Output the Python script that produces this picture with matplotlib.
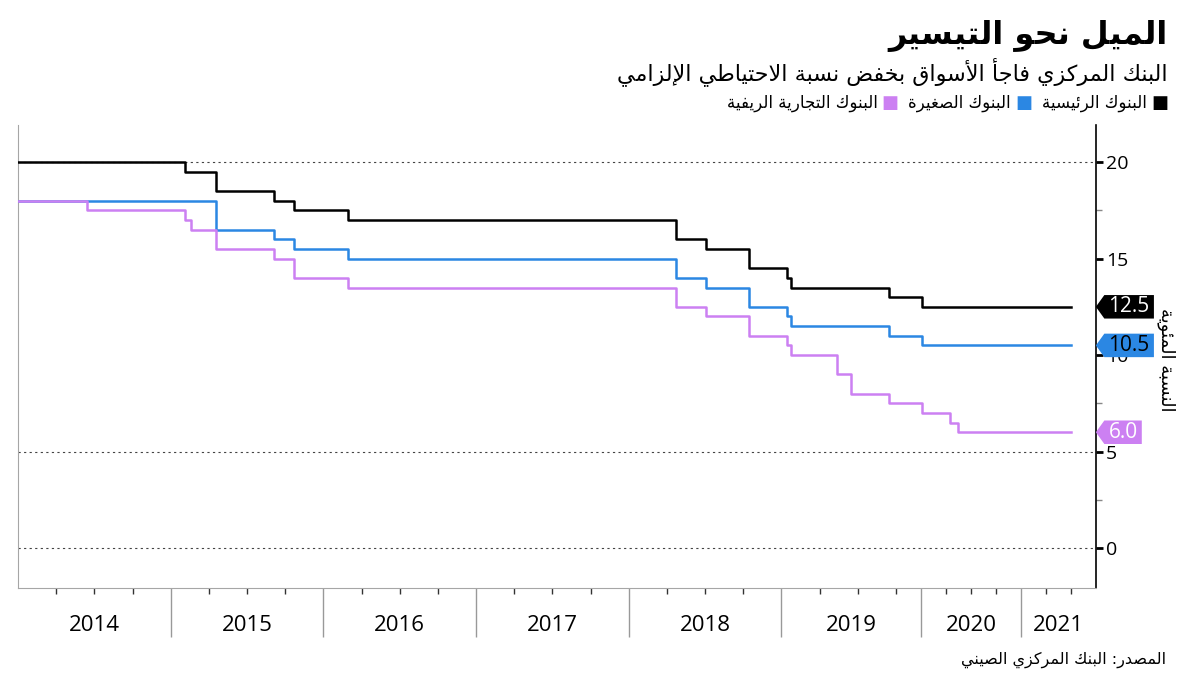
import numpy as np
import pandas as pd
import matplotlib.pyplot as plt
from matplotlib.path import Path
from matplotlib.ticker import FixedLocator, NullFormatter

# ---- data (step changes of the reserve requirement ratio, %) ----
major_dates = ["2014-01-01", "2015-02-05", "2015-04-20", "2015-09-06", "2015-10-24",
               "2016-03-01", "2018-04-25", "2018-07-05", "2018-10-15", "2019-01-15",
               "2019-01-25", "2019-09-16", "2020-01-06", "2021-07-01"]
major_vals = [20.0, 19.5, 18.5, 18.0, 17.5, 17.0, 16.0, 15.5, 14.5, 14.0, 13.5, 13.0, 12.5, 12.5]

small_dates = ["2014-01-01", "2015-04-20", "2015-09-06", "2015-10-24", "2016-03-01",
               "2018-04-25", "2018-07-05", "2018-10-15", "2019-01-15", "2019-01-25",
               "2019-09-16", "2020-01-06", "2021-07-01"]
small_vals = [18.0, 16.5, 16.0, 15.5, 15.0, 14.0, 13.5, 12.5, 12.0, 11.5, 11.0, 10.5, 10.5]

rural_dates = ["2014-01-01", "2014-06-16", "2015-02-05", "2015-02-18", "2015-04-20",
               "2015-09-06", "2015-10-24", "2016-03-01", "2018-04-25", "2018-07-05",
               "2018-10-15", "2019-01-15", "2019-01-25", "2019-05-15", "2019-06-17",
               "2019-09-16", "2020-01-06", "2020-04-15", "2020-05-15", "2021-07-01"]
rural_vals = [18.0, 17.5, 17.0, 16.5, 15.5, 15.0, 14.0, 13.5, 12.5, 12.0,
              11.0, 10.5, 10.0, 9.0, 8.0, 7.5, 7.0, 6.5, 6.0, 6.0]

years = [2014, 2015, 2016, 2017, 2018, 2019, 2020, 2021]
series_names = ["البنوك الرئيسية", "البنوك الصغيرة", "البنوك التجارية الريفية"]
colors = ["#000000", "#2b87e3", "#cc80f2"]
tag_text_colors = ["white", "black", "white"]

title = "الميل نحو التيسير"
subtitle = "البنك المركزي فاجأ الأسواق بخفض نسبة الاحتياطي الإلزامي"
ylabel = "النسبة المئوية"
source = "المصدر: البنك المركزي الصيني"


# ---- minimal Arabic shaping (matplotlib has no text shaping) ----
DUAL = dict(zip("ئبتثجحخسشصضطظعغفقكلمنهي",
                [0xFE89, 0xFE8F, 0xFE95, 0xFE99, 0xFE9D, 0xFEA1, 0xFEA5, 0xFEB1, 0xFEB5,
                 0xFEB9, 0xFEBD, 0xFEC1, 0xFEC5, 0xFEC9, 0xFECD, 0xFED1, 0xFED5, 0xFED9,
                 0xFEDD, 0xFEE1, 0xFEE5, 0xFEE9, 0xFEF1]))
RIGHT = dict(zip("آأؤإاةدذرزوى",
                 [0xFE81, 0xFE83, 0xFE85, 0xFE87, 0xFE8D, 0xFE93, 0xFEA9, 0xFEAB, 0xFEAD,
                  0xFEAF, 0xFEED, 0xFEEF]))
LAM_ALEF = {"آ": 0xFEF5, "أ": 0xFEF7, "إ": 0xFEF9, "ا": 0xFEFB}


def ar(text):
    out = []
    i = 0
    while i < len(text):
        c = text[i]
        prev = text[i - 1] if i > 0 else ""
        nxt = text[i + 1] if i + 1 < len(text) else ""
        joined_prev = prev in DUAL
        if c == "ل" and nxt in LAM_ALEF:
            out.append(chr(LAM_ALEF[nxt] + joined_prev))
            i += 2
            continue
        if c in DUAL:
            joined_next = nxt in DUAL or nxt in RIGHT
            form = {(False, False): 0, (True, False): 1,
                    (False, True): 2, (True, True): 3}[(joined_prev, joined_next)]
            out.append(chr(DUAL[c] + form))
        elif c in RIGHT:
            out.append(chr(RIGHT[c] + joined_prev))
        else:
            out.append(c)
        i += 1
    return "".join(out)[::-1]


def dec_year(dates):
    d = pd.to_datetime(pd.Series(dates))
    return (d.dt.year + (d.dt.dayofyear - 1) / 365.25).to_numpy()


# the source chart squeezes the time axis after autumn 2019
BREAK, RATIO = 2019.75, 0.655


def fwd(x):
    x = np.asarray(x, dtype=float)
    return np.where(x < BREAK, x - BREAK, (x - BREAK) * RATIO)


def inv(y):
    y = np.asarray(y, dtype=float)
    return np.where(y < 0, y + BREAK, y / RATIO + BREAK)


def tag_box(x0, y0, width, height, mutation_size):
    pad = 0.2 * mutation_size
    vpad = 0.06 * mutation_size
    x0, w = x0 - pad, width + 2 * pad
    y0, h = y0 - vpad, height + 2 * vpad
    tip = 0.36 * h
    verts = [(x0, y0), (x0 + w, y0), (x0 + w, y0 + h), (x0, y0 + h),
             (x0 - tip, y0 + h / 2), (x0, y0)]
    return Path(verts, closed=True)


NUM_FONT = "Open Sans"
AR_FONT = "DejaVu Sans"

fig = plt.figure(figsize=(12, 6.75), dpi=100)
ax = fig.add_axes([18 / 1200, 1 - 588 / 675, (1096 - 18) / 1200, (588 - 125) / 675])
ax.set_xscale("function", functions=(fwd, inv))
ax.set_xlim(2014.0, 2021.75)
ax.set_ylim(-2.07, 21.92)

for level in [0, 5, 20]:
    ax.axhline(level, color="#444444", lw=0.8, ls=(0, (2, 3)), zorder=1)

all_dates = [major_dates, small_dates, rural_dates]
all_vals = [major_vals, small_vals, rural_vals]
for dates, vals, col, tcol in zip(all_dates, all_vals, colors, tag_text_colors):
    ax.step(dec_year(dates), vals, where="post", color=col, lw=1.8, zorder=3)
    ax.annotate(f"{vals[-1]:.1f}", xy=(1, vals[-1]), xycoords=ax.get_yaxis_transform(),
                xytext=(9, 0), textcoords="offset points", ha="left", va="center",
                fontsize=15, family=NUM_FONT, color=tcol, annotation_clip=False,
                zorder=5, bbox=dict(boxstyle=tag_box, fc=col, ec="none"))

# y axis on the right
ax.yaxis.tick_right()
ax.set_yticks([0, 5, 10, 15, 20])
ax.yaxis.set_minor_locator(FixedLocator([2.5, 7.5, 12.5, 17.5]))
ax.tick_params(axis="y", which="major", length=5, width=2, pad=2, labelsize=14,
               labelfontfamily=NUM_FONT)
ax.tick_params(axis="y", which="minor", length=4, width=1, color="#888888")

# x axis: year separators and quarter ticks
ax.xaxis.set_major_locator(FixedLocator(years[1:]))
ax.xaxis.set_major_formatter(NullFormatter())
quarters = [y + q / 4 for y in years for q in (1, 2, 3) if y + q / 4 < 2021.75]
ax.xaxis.set_minor_locator(FixedLocator(quarters))
ax.tick_params(axis="x", which="major", length=35, width=1, color="#999999")
ax.tick_params(axis="x", which="minor", length=4, width=1, color="#333333")
for y in years:
    mid = inv((fwd(y) + fwd(min(y + 1, 2021.75))) / 2)
    ax.text(float(mid), -0.08, str(y), transform=ax.get_xaxis_transform(),
            ha="center", va="center", fontsize=16, family=NUM_FONT)

ax.spines["top"].set_visible(False)
ax.spines["left"].set_color("#a6a6a6")
ax.spines["bottom"].set_color("#a6a6a6")
ax.spines["right"].set_color("black")
ax.spines["right"].set_linewidth(1.2)

fig.text(1166 / 1200, 1 - 360 / 675, ar(ylabel), rotation=270, ha="center", va="center",
         fontsize=13, family=AR_FONT)

# titles and source
fig.text(1168 / 1200, 1 - 44 / 675, ar(title), ha="right", va="baseline",
         fontsize=23, fontweight="bold", family=AR_FONT)
fig.text(1168 / 1200, 1 - 80 / 675, ar(subtitle), ha="right", va="baseline",
         fontsize=16, family=AR_FONT)
fig.text(1166 / 1200, 1 - 664 / 675, ar(source), ha="right", va="baseline",
         fontsize=11.5, family=AR_FONT)

# legend, laid out right to left
renderer = fig.canvas.get_renderer()
x = 1168
for name, col in zip(series_names, colors):
    sq = fig.text(x / 1200, 1 - 108 / 675, "■", ha="right", va="baseline",
                  fontsize=13, color=col, family=AR_FONT)
    x -= sq.get_window_extent(renderer).width + 4
    t = fig.text(x / 1200, 1 - 108 / 675, ar(name), ha="right", va="baseline",
                 fontsize=12, family=AR_FONT)
    x -= t.get_window_extent(renderer).width + 10

fig.savefig("out.png", dpi=100)
